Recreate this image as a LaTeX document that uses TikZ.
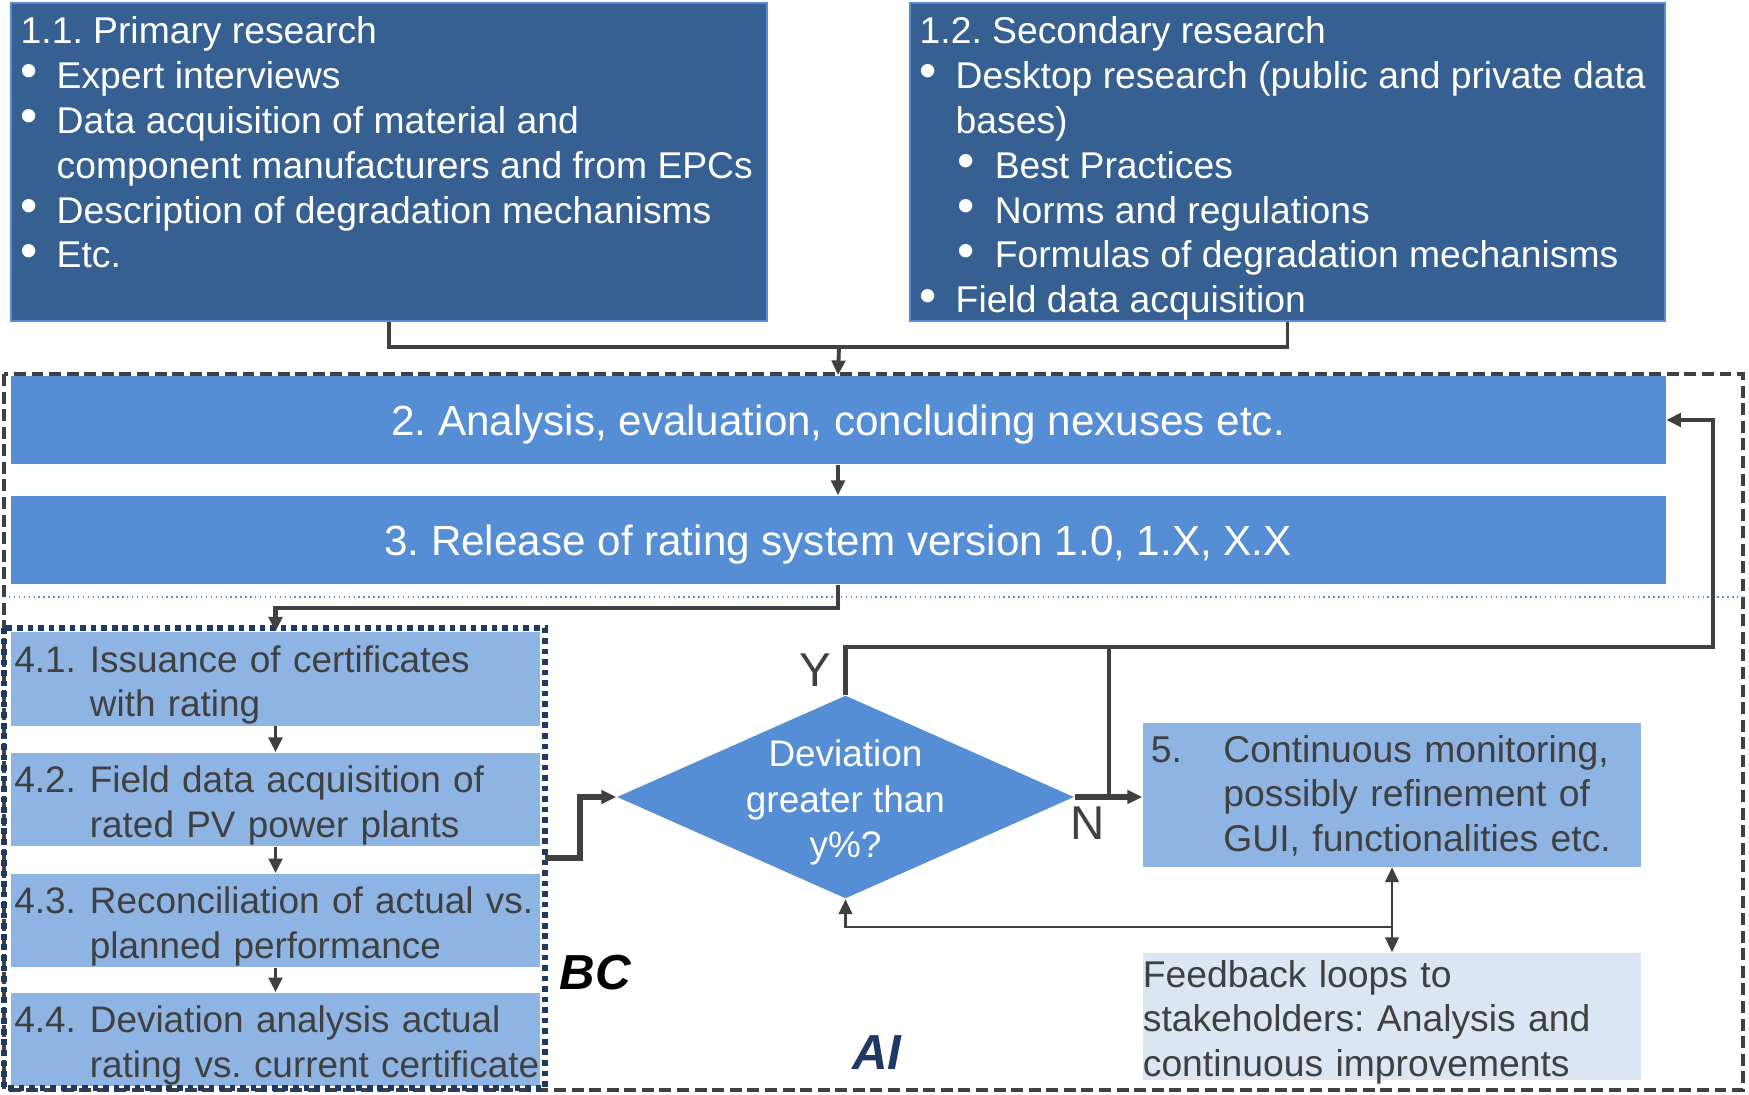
\documentclass[tikz,border=0pt]{standalone}
\usepackage{fontspec}
\setmainfont{Liberation Sans}
\usepackage{tikz}
\usetikzlibrary{shapes.geometric,arrows.meta,calc}
\frenchspacing
\definecolor{boxdark}{RGB}{54,96,146}
\definecolor{boxmid}{RGB}{85,142,213}
\definecolor{boxlight}{RGB}{142,180,227}
\definecolor{boxpale}{RGB}{220,230,242}
\definecolor{framenavy}{RGB}{31,56,100}
\definecolor{linegray}{RGB}{64,64,64}
\tikzstyle{line} = [draw=linegray,line width=1.1pt]
\tikzstyle{arrow} = [line,-{Triangle[length=4.2pt,width=3.8pt]}]
\tikzstyle{research} = [fill=boxdark,draw=boxmid,line width=0.6pt,inner sep=0]
\tikzstyle{restext} = [text=white,align=left,inner sep=0,font=\fontsize{10.6}{12.75}\selectfont]
\tikzstyle{stage} = [fill=boxmid,text=white,inner sep=0,minimum width=16.54cm,minimum height=0.88cm,text height=9pt,text depth=0pt,font=\fontsize{12}{14.4}\selectfont]
\tikzstyle{certbox} = [fill=boxlight,text=linegray,align=left,text width=5.22cm,inner xsep=0.035cm,inner ysep=0,minimum height=0.93cm,text height=10.9pt,text depth=14.8pt,font=\fontsize{10.5}{12.7}\selectfont]
\tikzstyle{decision} = [diamond,fill=boxmid,minimum width=4.57cm,minimum height=2.03cm,inner sep=0]
\tikzstyle{monbox} = [fill=boxlight,text=linegray,align=left,text width=4.82cm,inner xsep=0.08cm,inner ysep=0,minimum height=1.43cm,text height=9pt,text depth=27.6pt,font=\fontsize{10.6}{12.7}\selectfont]
\tikzstyle{fbbox} = [fill=boxpale,text=linegray,align=left,text width=4.98cm,inner xsep=0,inner ysep=0,minimum height=1.27cm,text height=9.65pt,text depth=26.35pt,font=\fontsize{10.6}{12.7}\selectfont]
\tikzstyle{yn} = [text=linegray,inner sep=0,font=\fontsize{13.5}{15}\selectfont]
\tikzstyle{tag} = [inner sep=0,font=\fontsize{14}{16}\selectfont\bfseries\itshape]
\newcommand{\bigbul}{\raisebox{0.2pt}{\fontsize{14}{12}\selectfont\textbullet}}
\newcommand{\bul}{\makebox[0.36cm][l]{\bigbul}}
\newcommand{\subbul}{\hspace*{0.38cm}\makebox[0.37cm][l]{\bigbul}}
\newcommand{\numcol}[1]{\makebox[0.755cm][l]{#1}}

\begin{document}
\begin{tikzpicture}[x=0.01cm,y=-0.01cm]
\useasboundingbox (0,0) rectangle (1749,1095);

% Frames (AI and BC)
\draw[linegray,line width=0.9pt,dash pattern=on 3.4pt off 1.6pt] (4,374) rectangle (1743,1090);
\draw[boxmid,line width=0.4pt,densely dotted] (4,597) -- (1743,597);

% Research boxes
\node[research,minimum width=7.56cm,minimum height=3.18cm] (prim) at (389,162) {};
\node[research,minimum width=7.55cm,minimum height=3.18cm] (sec) at (1287.5,162) {};
\node[restext,anchor=north west] (primtext) at (20,16) {1.1. Primary research\\
  \bul Expert interviews\\
  \bul Data acquisition of material and\\
  \hspace*{0.36cm}component manufacturers and from EPCs\\
  \bul Description of degradation mechanisms\\
  \bul Etc.};
\node[restext,anchor=north west] (sectext) at (919,16) {1.2. Secondary research\\
  \bul Desktop research (public and private data\\
  \hspace*{0.36cm}bases)\\
  \subbul Best Practices\\
  \subbul Norms and regulations\\
  \subbul Formulas of degradation mechanisms\\
  \bul Field data acquisition};

% Stages
\node[stage] (anal) at (838,420) {2. Analysis, evaluation, concluding nexuses etc.};
\node[stage] (rel) at (838,540) {3. Release of rating system version 1.0, 1.X, X.X};

% Certificate steps
\node[certbox] (iss) at (275.5,679) {\numcol{4.1.}Issuance of certificates\\\numcol{}with rating};
\node[certbox] (fld) at (275.5,799.5) {\numcol{4.2.}Field data acquisition of\\\numcol{}rated PV power plants};
\node[certbox] (rec) at (275.5,920.5) {\numcol{4.3.}Reconciliation of actual vs.\\\numcol{}planned performance};
\node[certbox] (dva) at (275.5,1039.5) {\numcol{4.4.}Deviation analysis actual\\\numcol{}\mbox{rating vs. current certificate}};
\draw[framenavy,line width=1.5pt,dash pattern=on 1.6pt off 1.4pt] (4,628) rectangle (545,1088);

% Decision and monitoring
\node[decision] (dev) at (845.5,797) {};
\node[text=white,align=center,inner sep=0,font=\fontsize{10.5}{13}\selectfont] (devtext) at ([yshift=-1.6pt]dev.center) {Deviation\\greater than\\y\%?};
\node[monbox] (mon) at (1392,795) {\makebox[0.725cm][l]{5.}Continuous monitoring,\\\hspace*{0.725cm}possibly refinement of\\\hspace*{0.725cm}GUI, functionalities etc.};
\node[fbbox] (fb) at (1392,1016.5) {Feedback loops to\\stakeholders: Analysis and\\continuous improvements};

% Labels
\node[yn] (ylab) at (815,670) {Y};
\node[yn] (nlab) at (1088,823) {N};
\node[tag] (bc) at (595,973) {BC};
\node[tag,text=framenavy] (ai) at (877,1053) {AI};

% Connectors
\coordinate (merge) at (839,347);
\coordinate (split) at (838,608);
\coordinate (bcout) at (545,858);
\coordinate (yturn) at (1713,647);
\coordinate (ntap) at (1109,647);
\coordinate (fbtap) at (1392,927);
\draw[line] (prim.south) |- (merge) -| (sec.south);
\draw[arrow] (merge) -- (anal.north);
\draw[arrow] (anal) -- (rel);
\draw[arrow,line width=1.3pt] (rel.south) |- (split) -| (iss.north);
\draw[arrow] (iss) -- (fld);
\draw[arrow] (fld) -- (rec);
\draw[arrow] (rec) -- (dva);
\draw[arrow,line width=1.5pt] (bcout) -- ++(35,0) |- (dev.west);
\draw[arrow,line width=1.3pt] (dev.north) |- (yturn) |- (anal.east);
\draw[line] (ntap) -- (ntap |- dev.east);
\draw[arrow,line width=1.5pt] (dev.east) -- (dev.east -| mon.west);
\draw[arrow,line width=0.7pt] (fbtap) -| (dev.south);
\draw[line,line width=0.7pt,{Triangle[length=4.2pt,width=3.8pt]}-{Triangle[length=4.2pt,width=3.8pt]}] (mon.south) -- (fb.north);

\end{tikzpicture}
\end{document}
